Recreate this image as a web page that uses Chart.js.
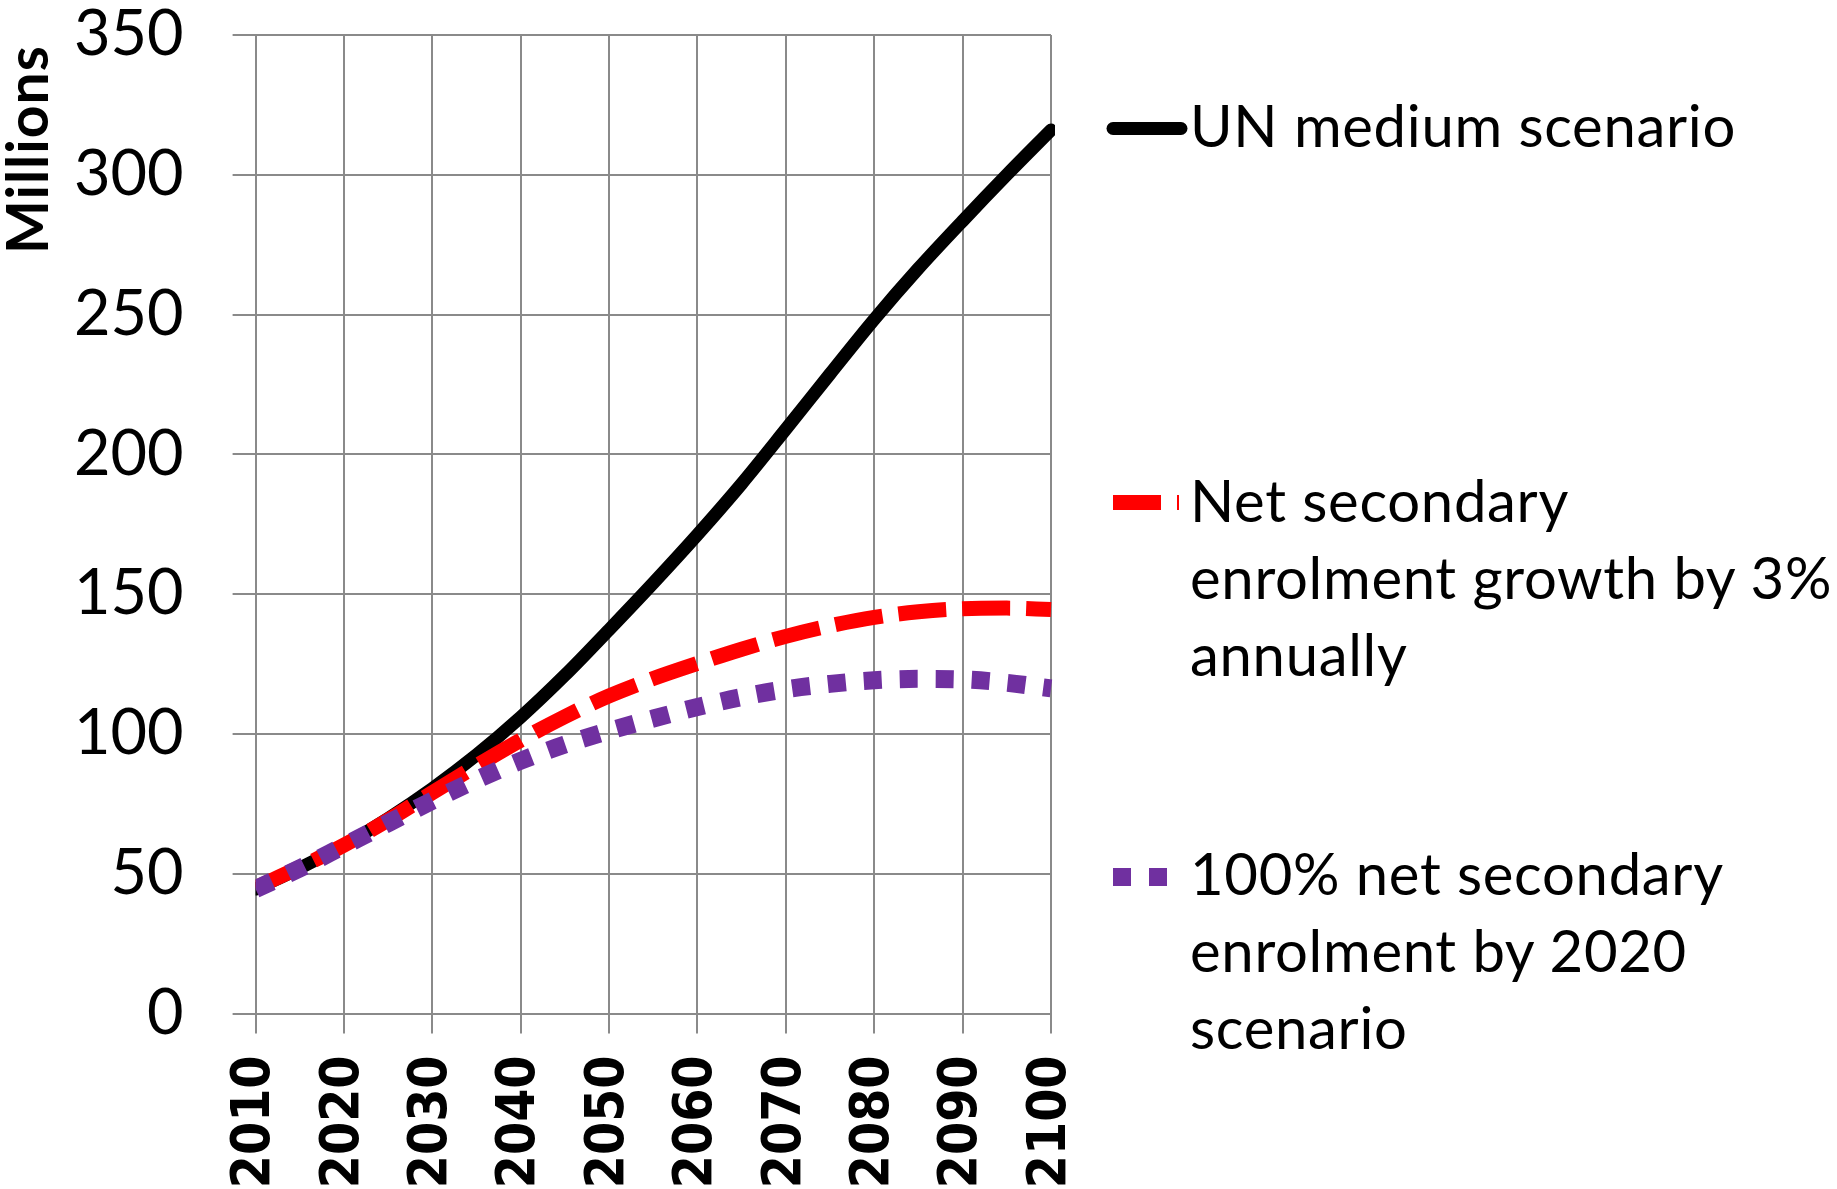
<!DOCTYPE html>
<html>
<head>
<meta charset="utf-8">
<title>Secondary school-age population scenarios</title>
<script src="https://cdn.jsdelivr.net/npm/chart.js@4.4.1/dist/chart.umd.min.js"></script>
<style>
  html, body { margin: 0; padding: 0; background: #ffffff; }
  #wrap { position: relative; width: 1837px; height: 1189px; overflow: hidden; }
  #chart { position: absolute; left: 0; top: 0; }
  .legend-text {
    position: absolute; left: 1190px; margin: 0;
    font-family: Lato, "Open Sans", sans-serif; font-size: 58px; line-height: 77.3px;
    letter-spacing: 0.7px; color: #000000; white-space: nowrap;
  }
  .legend-key { position: absolute; left: 1100px; width: 92px; overflow: hidden; }
  #y-title {
    position: absolute; left: -2px; top: 254px; margin: 0;
    transform-origin: 0 0; transform: rotate(-90deg);
    font-family: Lato, "Open Sans", sans-serif; font-weight: bold; font-size: 57px;
    line-height: 57px; letter-spacing: 1px; color: #000000; white-space: nowrap;
  }
</style>
</head>
<body>
<div id="wrap">
  <canvas id="chart" width="1837" height="1189"></canvas>

  <p id="y-title">Millions</p>

  <svg class="legend-key" style="top:110px;height:40px" width="92" height="40">
    <line x1="13" y1="18.5" x2="81" y2="18.5" stroke="#000000" stroke-width="13" stroke-linecap="round"/>
  </svg>
  <p class="legend-text" style="top:85.6px">UN medium scenario</p>

  <svg class="legend-key" style="top:485px;height:40px" width="92" height="40">
    <line x1="13" y1="17.5" x2="79" y2="17.5" stroke="#ff0000" stroke-width="15" stroke-dasharray="48 16"/>
  </svg>
  <p class="legend-text" style="top:460.6px">Net secondary<br>enrolment growth by 3%<br>annually</p>

  <svg class="legend-key" style="top:857px;height:40px" width="92" height="40">
    <line x1="13" y1="20" x2="80" y2="20" stroke="#7030a0" stroke-width="18" stroke-dasharray="18 18"/>
  </svg>
  <p class="legend-text" style="top:833.9px">100% net secondary<br>enrolment by 2020<br>scenario</p>
</div>

<script>
// Years on the horizontal axis (five-year steps)
const years = [2010, 2015, 2020, 2025, 2030, 2035, 2040, 2045, 2050, 2055,
               2060, 2065, 2070, 2075, 2080, 2085, 2090, 2095, 2100];

// Millions, per scenario
const unMedium = [44.5, 52, 60.3, 69.8, 80.5, 92.5, 106, 121, 137.3, 154,
                  171.3, 189.5, 209, 228.8, 248.3, 266.5, 283.5, 300, 316];
const growth3pct = [45, 52.3, 60.2, 69.2, 79, 88.6, 97.8, 106.2, 113.6, 119.8,
                    125.2, 130.3, 134.9, 138.7, 141.7, 143.7, 144.8, 145.0, 144.5];
const full2020 = [44.5, 51.9, 60.0, 68.1, 76.1, 83.6, 90.4, 96.2, 101.1, 105.5,
                  109.6, 113.2, 116.0, 117.9, 119.2, 119.7, 119.5, 118.3, 116.3];

const seriesNames = ['UN medium scenario',
                     'Net secondary enrolment growth by 3% annually',
                     '100% net secondary enrolment by 2020 scenario'];

// Axis ticks
const yearTicks = [2010, 2020, 2030, 2040, 2050, 2060, 2070, 2080, 2090, 2100];
const valueTicks = [0, 50, 100, 150, 200, 250, 300, 350];

const pairs = (vals) => vals.map((v, i) => ({ x: years[i], y: v }));
const gridGrey = '#8a8a8a';
const lineClip = { left: 0, top: 40, right: 4, bottom: 40 };

new Chart(document.getElementById('chart'), {
  type: 'line',
  data: {
    datasets: [
      {
        label: seriesNames[0], data: pairs(unMedium),
        borderColor: '#000000', borderWidth: 13, order: 3,
        borderCapStyle: 'round', borderJoinStyle: 'round',
        pointRadius: 0, cubicInterpolationMode: 'monotone', clip: lineClip
      },
      {
        label: seriesNames[1], data: pairs(growth3pct),
        borderColor: '#ff0000', borderWidth: 15, order: 2,
        borderDash: [48, 16], borderCapStyle: 'butt',
        pointRadius: 0, cubicInterpolationMode: 'monotone', clip: lineClip
      },
      {
        label: seriesNames[2], data: pairs(full2020),
        borderColor: '#7030a0', borderWidth: 18, order: 1,
        borderDash: [18, 18], borderCapStyle: 'butt',
        pointRadius: 0, cubicInterpolationMode: 'monotone', clip: lineClip
      }
    ]
  },
  options: {
    responsive: false,
    animation: false,
    events: [],
    layout: { padding: { top: 35, right: 786, left: 0, bottom: 0 } },
    plugins: { legend: { display: false }, tooltip: { enabled: false } },
    scales: {
      x: {
        type: 'linear',
        min: yearTicks[0], max: yearTicks[yearTicks.length - 1],
        afterBuildTicks: (scale) => { scale.ticks = yearTicks.map(v => ({ value: v })); },
        afterFit: (scale) => { scale.height = 175.5; },
        ticks: {
          autoSkip: false, minRotation: 90, maxRotation: 90, padding: 22,
          color: '#000000',
          font: { family: '"DejaVu Sans Condensed", "DejaVu Sans", sans-serif', weight: 'bold', size: 53, lineHeight: 1 },
          callback: (v) => String(v)
        },
        grid: { color: gridGrey, lineWidth: 2, tickLength: 20, tickColor: gridGrey, drawTicks: true },
        border: { color: gridGrey, width: 2 }
      },
      y: {
        min: valueTicks[0], max: valueTicks[valueTicks.length - 1],
        afterBuildTicks: (scale) => { scale.ticks = valueTicks.map(v => ({ value: v })); },
        afterFit: (scale) => {
          scale.width = 255.6;
          // the top/bottom labels may overhang the plot area
          scale.paddingTop = 0;
          scale.paddingBottom = 0;
        },
        ticks: {
          padding: 49, color: '#000000',
          font: { family: 'Lato, "Open Sans", sans-serif', size: 63, lineHeight: 1 },
          callback: (v) => String(v)
        },
        grid: { color: gridGrey, lineWidth: 2, tickLength: 23, tickColor: gridGrey, drawTicks: true },
        border: { color: gridGrey, width: 2 }
      }
    }
  }
});
</script>
</body>
</html>
